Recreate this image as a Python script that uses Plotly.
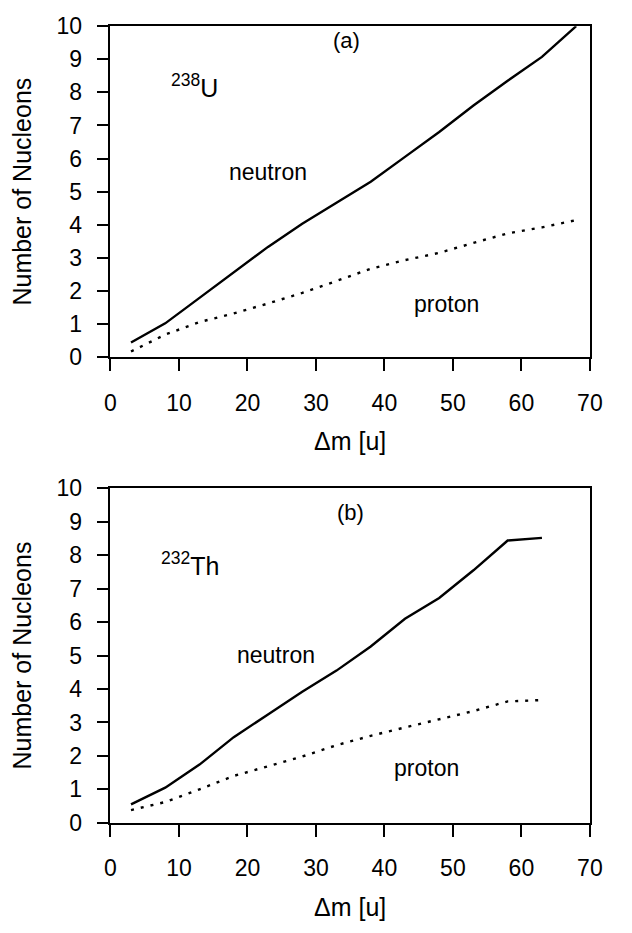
import plotly.graph_objects as go

# ---- data ----
dm_u = [3, 8, 13, 18, 23, 28, 33, 38, 43, 48, 53, 58, 63, 68]
neutron_u = [0.44, 1.02, 1.79, 2.56, 3.33, 4.03, 4.66, 5.30, 6.05, 6.80, 7.60, 8.35, 9.07, 10.0]
proton_u = [0.17, 0.68, 1.06, 1.32, 1.62, 1.94, 2.30, 2.67, 2.93, 3.15, 3.45, 3.74, 3.92, 4.14]

dm_th = [3, 8, 13, 18, 23, 28, 33, 38, 43, 48, 53, 58, 63]
neutron_th = [0.55, 1.05, 1.74, 2.56, 3.24, 3.92, 4.55, 5.27, 6.10, 6.72, 7.55, 8.44, 8.52]
proton_th = [0.38, 0.62, 1.00, 1.40, 1.69, 1.98, 2.32, 2.60, 2.85, 3.09, 3.34, 3.63, 3.67]

x_ticks = [0, 10, 20, 30, 40, 50, 60, 70]
y_ticks = [0, 1, 2, 3, 4, 5, 6, 7, 8, 9, 10]
x_title = "Δm [u]"
y_title = "Number of Nucleons"

FONT = "Liberation Sans, Arial, sans-serif"
BLACK = "#000000"

fig = go.Figure()
solid = dict(color=BLACK, width=2.4)
dotted = dict(color=BLACK, width=2.4, dash="3px,7px")

fig.add_trace(go.Scatter(x=dm_u, y=neutron_u, mode="lines", line=solid, xaxis="x", yaxis="y", showlegend=False))
fig.add_trace(go.Scatter(x=dm_u, y=proton_u, mode="lines", line=dotted, xaxis="x", yaxis="y", showlegend=False))
fig.add_trace(go.Scatter(x=dm_th, y=neutron_th, mode="lines", line=solid, xaxis="x2", yaxis="y2", showlegend=False))
fig.add_trace(go.Scatter(x=dm_th, y=proton_th, mode="lines", line=dotted, xaxis="x2", yaxis="y2", showlegend=False))


def xax(anchor):
    return dict(
        range=[0, 70], tickvals=x_ticks, ticks="outside", ticklen=12, tickwidth=1.6,
        tickcolor=BLACK, showline=True, linecolor=BLACK, linewidth=1.6, mirror=True,
        showgrid=False, zeroline=False, anchor=anchor, domain=[0.1704, 0.9525],
        tickfont=dict(family=FONT, size=23, color=BLACK), ticklabelstandoff=12,
        title=dict(text=x_title, font=dict(family=FONT, size=25, color=BLACK), standoff=18),
    )


def yax(anchor, domain):
    return dict(
        range=[0, 10], tickvals=y_ticks, ticks="outside", ticklen=12, tickwidth=1.6,
        tickcolor=BLACK, showline=True, linecolor=BLACK, linewidth=1.6, mirror=True,
        showgrid=False, zeroline=False, anchor=anchor, domain=domain,
        tickfont=dict(family=FONT, size=23, color=BLACK), ticklabelstandoff=10,
        title=dict(text=y_title, font=dict(family=FONT, size=25, color=BLACK), standoff=18),
    )


fig.update_layout(
    width=632, height=933,
    margin=dict(l=0, r=0, t=0, b=0),
    paper_bgcolor="white", plot_bgcolor="white",
    xaxis=xax("y"),
    yaxis=yax("x", [0.6206, 0.9855]),
    xaxis2=xax("y2"),
    yaxis2=yax("x2", [0.1072, 0.4759]),
)

ann_font = dict(family=FONT, size=23, color=BLACK)
iso_font = dict(family=FONT, size=25, color=BLACK)
lab_font = dict(family=FONT, size=22, color=BLACK)
annotations = [
    dict(x=8.6, y=8.2, xref="x", yref="y", text="<sup>238</sup>U", xanchor="left", yanchor="middle",
         showarrow=False, font=iso_font),
    dict(x=34.5, y=9.56, xref="x", yref="y", text="(a)", showarrow=False, font=lab_font),
    dict(x=23.0, y=5.6, xref="x", yref="y", text="neutron", showarrow=False, font=ann_font),
    dict(x=49.0, y=1.62, xref="x", yref="y", text="proton", showarrow=False, font=ann_font),
    dict(x=7.1, y=7.75, xref="x2", yref="y2", text="<sup>232</sup>Th", xanchor="left", yanchor="middle",
         showarrow=False, font=iso_font),
    dict(x=35.0, y=9.29, xref="x2", yref="y2", text="(b)", showarrow=False, font=lab_font),
    dict(x=24.1, y=5.03, xref="x2", yref="y2", text="neutron", showarrow=False, font=ann_font),
    dict(x=46.1, y=1.63, xref="x2", yref="y2", text="proton", showarrow=False, font=ann_font),
]
fig.update_layout(annotations=annotations)

fig.write_html("out.html")
